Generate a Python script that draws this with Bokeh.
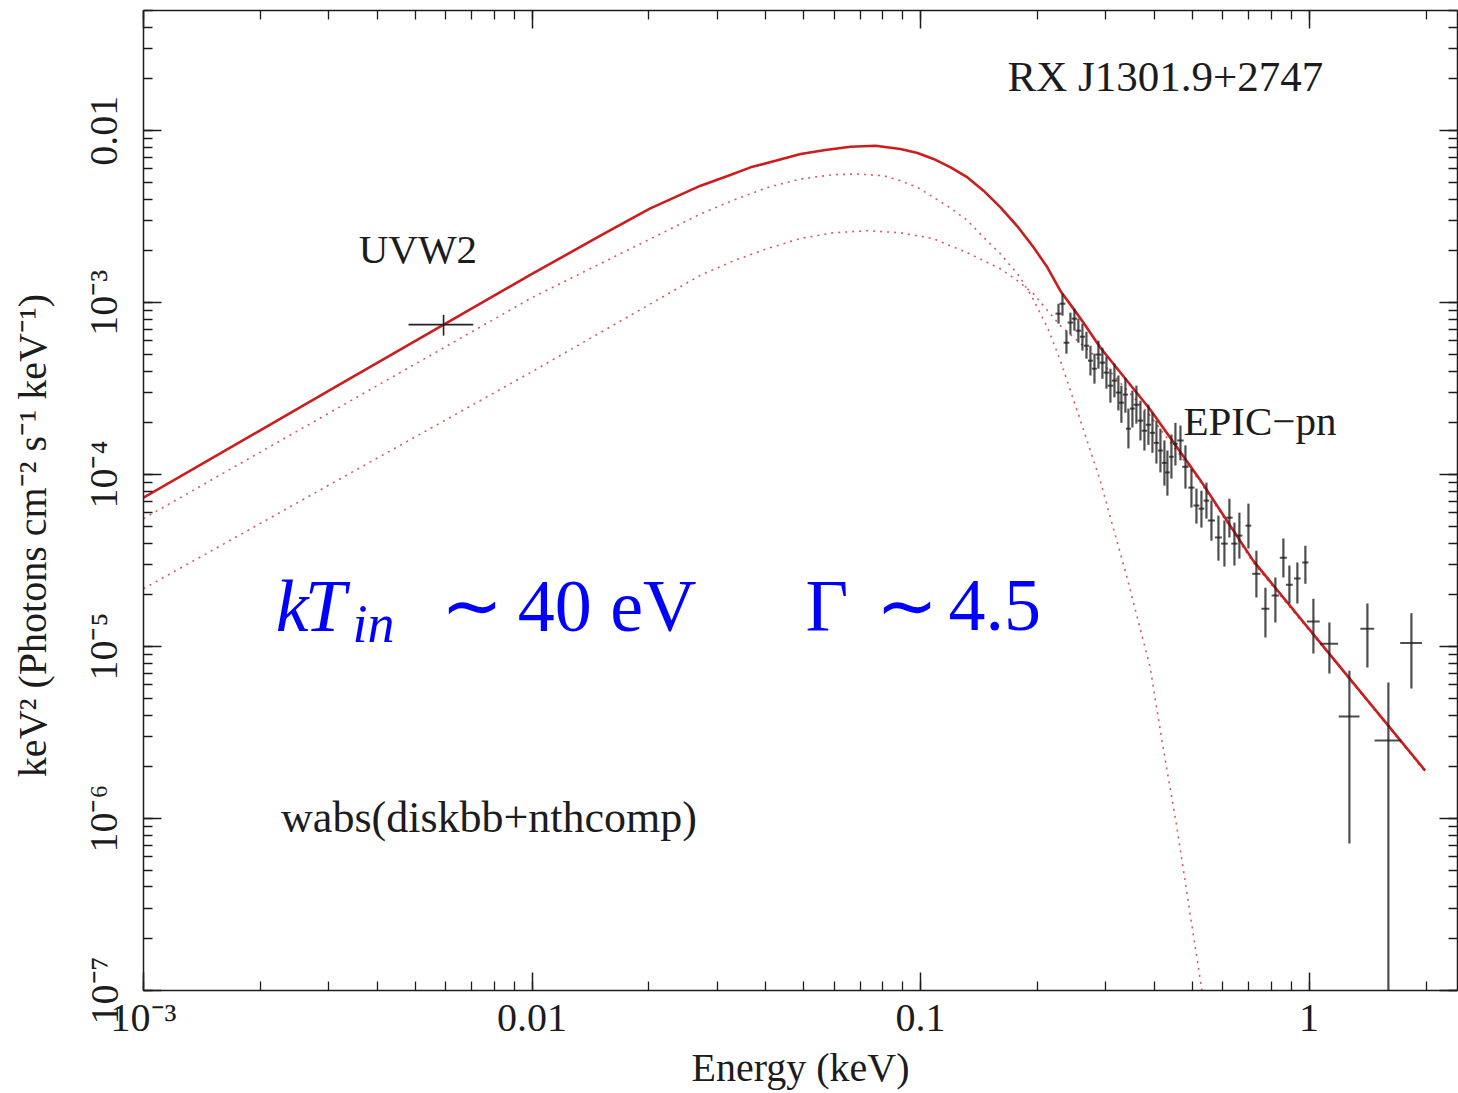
from bokeh.plotting import figure
from bokeh.models import (ColumnDataSource, Label, LogAxis, LogTicker,
                          CustomJSTickFormatter, Range1d)
from bokeh.embed import file_html
from bokeh.resources import INLINE

# ---------------- data ----------------
# total model  wabs(diskbb+nthcomp)
model_E = [0.001, 0.00316, 0.01, 0.015, 0.0201, 0.02716, 0.03149, 0.03652, 0.04234, 0.04911,
           0.05694, 0.06603, 0.07656, 0.08878, 0.09821, 0.1080, 0.1195, 0.1321, 0.1452, 0.1606,
           0.1777, 0.1953, 0.2122, 0.2291, 0.2474, 0.2627, 0.2904, 0.390, 0.524, 0.718, 1.20, 1.99]
model_F = [7.35e-5, 3.29e-4, 1.47e-3, 2.45e-3, 3.52e-3, 4.79e-3, 5.40e-3, 6.12e-3, 6.69e-3, 7.32e-3,
           7.72e-3, 8.07e-3, 8.18e-3, 7.83e-3, 7.42e-3, 6.85e-3, 6.12e-3, 5.35e-3, 4.48e-3, 3.58e-3,
           2.77e-3, 2.10e-3, 1.60e-3, 1.17e-3, 9.23e-4, 7.65e-4, 5.47e-4, 2.39e-4, 9.35e-5, 3.16e-5,
           7.65e-6, 1.9e-6]

# diskbb component (dotted)
disk_E = [0.001, 0.01, 0.02716, 0.03303, 0.04041, 0.04911, 0.05973, 0.06883, 0.08033, 0.08878,
          0.09821, 0.1080, 0.1195, 0.1321, 0.1452, 0.1606, 0.1777, 0.1919, 0.2122, 0.2291,
          0.258, 0.290, 0.340, 0.390, 0.421, 0.457, 0.494, 0.530, 0.545]
disk_F = [5.55e-5, 1.07e-3, 3.28e-3, 3.95e-3, 4.68e-3, 5.24e-3, 5.55e-3, 5.60e-3, 5.47e-3, 5.12e-3,
          4.68e-3, 4.09e-3, 3.55e-3, 3.0e-3, 2.40e-3, 1.92e-3, 1.47e-3, 1.12e-3, 7.18e-4, 4.60e-4,
          2.06e-4, 9.23e-5, 2.52e-5, 7.55e-6, 2.59e-6, 8.87e-7, 2.8e-7, 1.0e-7, 6.0e-8]

# nthcomp component (dotted)
comp_E = [0.001, 0.01, 0.0271, 0.033, 0.0403, 0.049, 0.0596, 0.073, 0.0886, 0.1076, 0.132,
          0.160, 0.1777, 0.195, 0.229, 0.290, 0.390, 0.524, 0.718, 1.20, 1.99]
comp_F = [2.17e-5, 3.97e-4, 1.44e-3, 1.75e-3, 2.06e-3, 2.36e-3, 2.55e-3, 2.62e-3, 2.55e-3, 2.36e-3,
          1.95e-3, 1.58e-3, 1.34e-3, 1.13e-3, 7.35e-4, 4.6e-4, 2.2e-4, 9.1e-5, 3.08e-5, 7.55e-6, 1.87e-6]

# UVW2 optical/UV point
uv_E, uv_F = [5.92e-3], [7.45e-4]
uv_Elo, uv_Ehi = [4.81e-3], [7.06e-3]
uv_Flo, uv_Fhi = [6.43e-4], [8.5e-4]

# EPIC-pn spectrum
pn_E = [0.2265, 0.2319, 0.2374, 0.2431, 0.2489, 0.2548, 0.2610, 0.2673, 0.2737, 0.2803,
        0.2870, 0.2938, 0.3009, 0.3081, 0.3155, 0.3230, 0.3288, 0.3367, 0.3428, 0.3510,
        0.3594, 0.3681, 0.3769, 0.3859, 0.3952, 0.4047, 0.4144, 0.4243, 0.4319, 0.4423,
        0.4529, 0.4666, 0.4806, 0.4980, 0.5130, 0.5284, 0.5443, 0.5607, 0.5844, 0.6055,
        0.6237, 0.6425, 0.6617, 0.6981, 0.7318, 0.7721, 0.8190, 0.8588, 0.8899, 0.9330,
        0.9783, 1.026, 1.128, 1.270, 1.413, 1.600, 1.834]
pn_F = [8.63e-4, 9.86e-4, 5.85e-4, 7.66e-4, 8.07e-4, 6.87e-4, 6.34e-4, 5.62e-4, 4.60e-4, 4.13e-4,
        4.99e-4, 4.48e-4, 3.92e-4, 3.29e-4, 3.52e-4, 3.0e-4, 2.62e-4, 2.92e-4, 1.85e-4, 2.42e-4,
        2.55e-4, 2.06e-4, 1.80e-4, 1.95e-4, 1.75e-4, 1.53e-4, 1.38e-4, 1.17e-4, 1.03e-4, 1.27e-4,
        1.51e-4, 1.58e-4, 1.11e-4, 8.40e-5, 6.61e-5, 6.34e-5, 7.06e-5, 5.41e-5, 4.31e-5, 3.97e-5,
        5.62e-5, 3.97e-5, 4.42e-5, 5.05e-5, 2.65e-5, 1.66e-5, 1.98e-5, 3.29e-5, 2.29e-5, 2.49e-5,
        3.08e-5, 1.40e-5, 1.04e-5, 3.92e-6, 1.27e-5, 2.84e-6, 1.05e-5]
pn_Fhi = [9.86e-4, 1.127e-3, 6.87e-4, 8.75e-4, 9.23e-4, 8.07e-4, 7.55e-4, 6.78e-4, 5.62e-4, 5.05e-4,
          6.01e-4, 5.47e-4, 4.85e-4, 4.13e-4, 4.42e-4, 3.77e-4, 3.29e-4, 3.66e-4, 2.42e-4, 3.08e-4,
          3.29e-4, 2.69e-4, 2.36e-4, 2.55e-4, 2.29e-4, 2.06e-4, 1.85e-4, 1.58e-4, 1.38e-4, 1.71e-4,
          2.0e-4, 1.93e-4, 1.48e-4, 1.08e-4, 8.29e-5, 8.07e-5, 8.98e-5, 7.06e-5, 5.78e-5, 5.41e-5,
          7.24e-5, 5.26e-5, 6.01e-5, 6.78e-5, 3.61e-5, 2.20e-5, 2.52e-5, 4.25e-5, 2.96e-5, 3.08e-5,
          3.86e-5, 1.90e-5, 1.38e-5, 7.24e-6, 1.78e-5, 6.18e-6, 1.56e-5]
pn_Flo = [7.55e-4, 8.40e-4, 5.05e-4, 6.52e-4, 6.87e-4, 5.85e-4, 5.26e-4, 4.72e-4, 3.77e-4, 3.38e-4,
          4.13e-4, 3.61e-4, 3.16e-4, 2.62e-4, 2.81e-4, 2.36e-4, 2.0e-4, 2.29e-4, 1.42e-4, 1.88e-4,
          1.98e-4, 1.58e-4, 1.38e-4, 1.49e-4, 1.34e-4, 1.16e-4, 1.03e-4, 8.63e-5, 7.55e-5, 9.48e-5,
          1.13e-4, 1.21e-4, 8.29e-5, 6.43e-5, 5.19e-5, 4.92e-5, 5.55e-5, 4.13e-5, 3.16e-5, 2.92e-5,
          4.31e-5, 2.96e-5, 3.25e-5, 3.72e-5, 1.93e-5, 1.13e-5, 1.38e-5, 2.52e-5, 1.78e-5, 1.78e-5,
          2.32e-5, 9.10e-6, 6.97e-6, 7.16e-7, 7.55e-6, 1.0e-8, 5.70e-6]
pn_dE = [0.004] * 10 + [0.005] * 10 + [0.006] * 11 + [0.009] * 6 + [0.012] * 7 + [0.018] * 7 + \
        [0.039, 0.060, 0.078, 0.058, 0.126, 0.118]

x_tick_labels = {-3: "10⁻³", -2: "0.01", -1: "0.1", 0: "1"}
y_tick_labels = {-7: "10⁻⁷", -6: "10⁻⁶", -5: "10⁻⁵", -4: "10⁻⁴", -3: "10⁻³", -2: "0.01"}

# ---------------- figure ----------------
SERIF = "Liberation Serif"
INK = "#1c1c1c"
RED = "#cc1d1d"
DOT = "#d04848"

p = figure(width=1458, height=1093, x_axis_type="log", y_axis_type="log",
           x_range=Range1d(1e-3, 2.41), y_range=Range1d(1e-7, 0.05),
           output_backend="svg", toolbar_location=None,
           min_border_left=143, min_border_right=1, min_border_top=10, min_border_bottom=103)
p.outline_line_color = None
p.grid.visible = False
p.background_fill_color = "white"
p.border_fill_color = "white"


def make_fmt(d):
    pairs = ",".join(f'"{k}":"{v}"' for k, v in d.items())
    return CustomJSTickFormatter(code="const m={" + pairs + "};"
                                 "const e=Math.round(Math.log10(tick));"
                                 "return (m[String(e)]!==undefined)?m[String(e)]:'';")


blank_fmt = CustomJSTickFormatter(code="return '';")


def style_axis(ax, show_labels):
    ax.axis_line_color = INK
    ax.axis_line_width = 1.5
    ax.major_tick_line_color = INK
    ax.minor_tick_line_color = INK
    ax.major_tick_line_width = 1.5
    ax.minor_tick_line_width = 1.3
    ax.major_tick_in = 18
    ax.major_tick_out = 0
    ax.minor_tick_in = 9
    ax.minor_tick_out = 0
    if show_labels:
        ax.major_label_text_font = SERIF
        ax.major_label_text_font_size = "40px"
        ax.major_label_text_color = INK
        ax.axis_label_text_font = SERIF
        ax.axis_label_text_font_style = "normal"
        ax.axis_label_text_color = INK
    else:
        ax.major_label_text_font_size = "1px"
        ax.major_label_standoff = 0
        ax.axis_label = None


xt = LogTicker(num_minor_ticks=10, desired_num_ticks=4)
yt = LogTicker(num_minor_ticks=10, desired_num_ticks=6)

xa = p.xaxis[0]
xa.ticker = xt
xa.formatter = make_fmt(x_tick_labels)
style_axis(xa, True)
xa.axis_label = "Energy (keV)"
xa.axis_label_text_font_size = "40px"
xa.major_label_standoff = 4
xa.axis_label_standoff = 2

ya = p.yaxis[0]
ya.ticker = yt
ya.formatter = make_fmt(y_tick_labels)
style_axis(ya, True)
ya.major_label_orientation = "vertical"
# trailing no-break spaces shift the centred title downwards, as in the original
ya.axis_label = "keV² (Photons cm⁻² s⁻¹ keV⁻¹)" + "\u00a0" * 7
ya.axis_label_text_font_size = "40px"
ya.major_label_standoff = 17
ya.axis_label_standoff = 24

top_ax = LogAxis(ticker=xt, formatter=blank_fmt)
style_axis(top_ax, False)
p.add_layout(top_ax, "above")
right_ax = LogAxis(ticker=yt, formatter=blank_fmt)
style_axis(right_ax, False)
p.add_layout(right_ax, "right")

# ---------------- model curves ----------------
p.line(disk_E, disk_F, line_color=DOT, line_width=1.6, line_dash="2 5", line_alpha=0.9)
p.line(comp_E, comp_F, line_color=DOT, line_width=1.6, line_dash="2 5", line_alpha=0.9)
p.line(model_E, model_F, line_color=RED, line_width=2.6, line_join="round")

# ---------------- data ----------------
pn = ColumnDataSource(dict(E=pn_E, F=pn_F, lo=pn_Flo, hi=pn_Fhi,
                           e0=[e - d for e, d in zip(pn_E, pn_dE)],
                           e1=[e + d for e, d in zip(pn_E, pn_dE)]))
p.segment(x0="E", y0="lo", x1="E", y1="hi", source=pn, line_color="#222222",
          line_width=2.2, line_alpha=0.8)
p.segment(x0="e0", y0="F", x1="e1", y1="F", source=pn, line_color="#222222",
          line_width=2.0, line_alpha=0.8)

uv = ColumnDataSource(dict(E=uv_E, F=uv_F, lo=uv_Flo, hi=uv_Fhi, e0=uv_Elo, e1=uv_Ehi))
p.segment(x0="E", y0="lo", x1="E", y1="hi", source=uv, line_color="#222222", line_width=1.6)
p.segment(x0="e0", y0="F", x1="e1", y1="F", source=uv, line_color="#222222", line_width=1.6)

# ---------------- annotations ----------------
def lab(x, y, txt, size, color=INK, style="normal", font=SERIF):
    p.add_layout(Label(x=x, y=y, text=txt, text_font=font, text_font_size=size,
                       text_color=color, text_font_style=style, text_baseline="alphabetic",
                       text_align="left"))


lab(0.1675, 0.0206, "RX J1301.9+2747", "43px")
lab(3.58e-3, 2.065e-3, "UVW2", "41px")
lab(0.4749, 2.04e-4, "EPIC−pn", "41px")
lab(2.26e-3, 1.014e-6, "wabs(diskbb+nthcomp)", "44px")

BLUE = "#0000ff"
lab(2.19e-3, 1.733e-5, "k", "74px", BLUE, "italic")
lab(2.60e-3, 1.733e-5, "T", "74px", BLUE, "italic")
lab(3.45e-3, 1.356e-5, "in", "54px", BLUE, "italic")
lab(5.82e-3, 1.733e-5, "∼", "74px", BLUE)
lab(9.19e-3, 1.733e-5, "40 eV", "74px", BLUE)
lab(0.0506, 1.733e-5, "Γ", "74px", BLUE)
lab(0.0766, 1.733e-5, "∼", "74px", BLUE)
lab(0.118, 1.733e-5, "4.5", "74px", BLUE)

open("out.html", "w").write(file_html(p, INLINE))
